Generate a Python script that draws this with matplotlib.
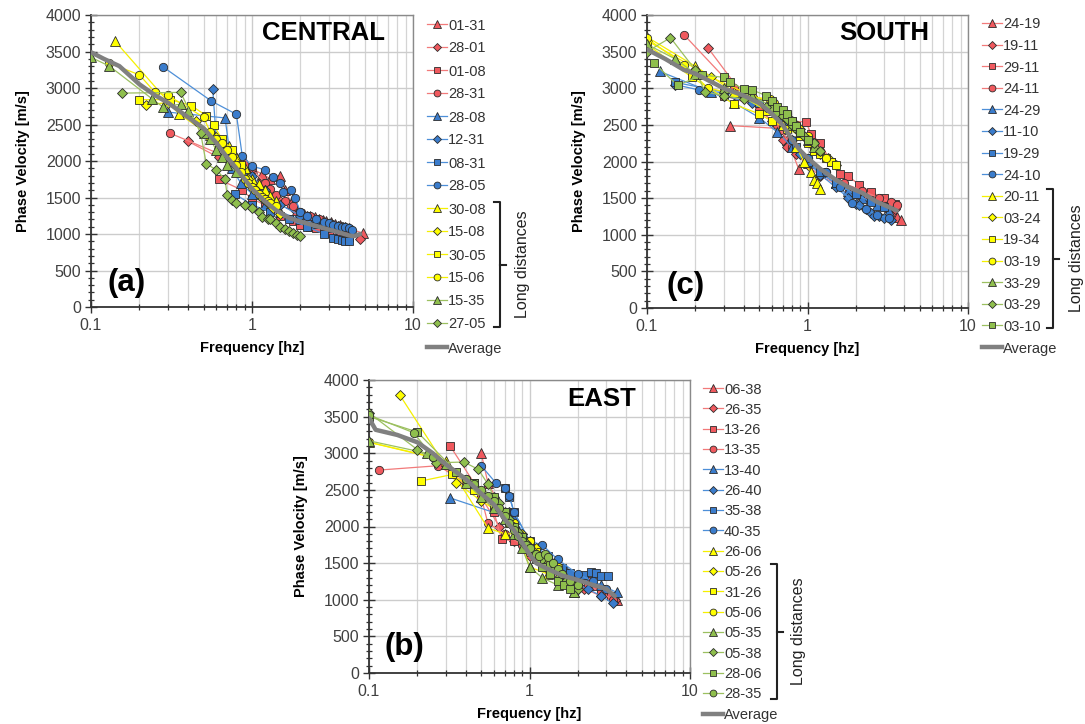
import numpy as np
import matplotlib
matplotlib.use('Agg')
import matplotlib.pyplot as plt
from matplotlib.lines import Line2D
from matplotlib.ticker import FixedLocator, MultipleLocator, NullFormatter

plt.rcParams['font.family'] = ['Liberation Sans', 'DejaVu Sans']

# ---------------- CENTRAL (a) ----------------
central_labels = ['01-31', '28-01', '01-08', '28-31', '28-08', '12-31', '08-31', '28-05',
                  '30-08', '15-08', '30-05', '15-06', '15-35', '27-05']
central_freq = [
    [0.62, 0.7, 0.8, 0.9, 1.0, 1.15, 1.3, 1.5, 1.6, 1.75, 1.9, 2.1, 2.3, 2.45, 2.6, 2.75, 2.9, 3.1, 3.3,
     3.5, 3.7, 4.2, 4.9],
    [0.4, 0.62, 0.75, 0.9, 1.1, 1.3, 1.5, 1.8, 2.2, 2.7, 3.3, 4.0, 4.7],
    [0.62, 0.87, 1.0, 1.2, 1.5, 1.8, 2.0, 2.3, 2.5, 2.8, 3.0, 3.5, 4.0],
    [0.31, 0.8, 1.0, 1.2, 1.3, 1.4, 1.6, 1.8, 2.0, 2.3, 2.6, 3.0, 3.5, 4.0],
    [0.3, 0.68, 0.75, 0.85, 1.0, 1.2, 1.5, 2.0, 2.5, 3.0, 3.5],
    [0.57, 0.6, 0.7, 0.8, 0.9, 1.0, 1.2, 1.5, 2.0, 2.5, 3.0, 3.2, 3.4, 3.6, 3.8, 4.0],
    [0.78, 1.0, 1.3, 1.7, 2.2, 2.8, 3.2, 3.4, 3.6, 3.8, 4.0],
    [0.28, 0.56, 0.8, 0.87, 1.0, 1.2, 1.35, 1.5, 1.55, 1.75, 1.85, 2.0, 2.2, 2.5, 2.8, 3.0, 3.2, 3.4,
     3.6, 3.8, 4.0, 4.2],
    [0.14, 0.35, 0.55, 0.65, 0.72, 0.8, 0.9, 1.0, 1.1, 1.2, 1.3, 1.4],
    [0.22, 0.3, 0.45, 0.55, 0.6, 0.65, 0.7, 0.75, 0.8, 0.85, 0.95, 1.05, 1.15, 1.25, 1.35, 1.5],
    [0.2, 0.31, 0.42, 0.52, 0.58, 0.65, 0.75, 0.85],
    [0.13, 0.2, 0.25, 0.3, 0.5, 0.55, 0.6, 0.65, 0.7, 0.75, 0.8, 0.85, 0.9, 0.95, 1.0, 1.05, 1.1, 1.15,
     1.2, 1.25, 1.3, 1.4],
    [0.1, 0.13, 0.24, 0.28, 0.36, 0.4, 0.5, 0.55, 0.6, 0.65, 0.7, 0.8],
    [0.155, 0.36, 0.48, 0.52, 0.6, 0.68, 0.7, 0.75, 0.8, 0.9, 1.0, 1.1, 1.15, 1.25, 1.3, 1.4, 1.5,
     1.6, 1.7, 1.8, 1.9, 2.0],
]
central_vel = [
    [2250, 2150, 2050, 1980, 1900, 1820, 1760, 1800, 1600, 1430, 1330, 1280, 1250, 1230, 1210, 1190,
     1180, 1160, 1140, 1120, 1100, 1060, 1010],
    [2270, 2050, 1950, 1850, 1700, 1560, 1450, 1350, 1250, 1180, 1100, 1020, 930],
    [1750, 1600, 1480, 1400, 1250, 1180, 1130, 1100, 1080, 1050, 1020, 990, 960],
    [2380, 2000, 1900, 1700, 1620, 1540, 1450, 1380, 1300, 1250, 1200, 1150, 1100, 1050],
    [2670, 2590, 1900, 1700, 1550, 1400, 1300, 1200, 1150, 1100, 1080],
    [2990, 2300, 2100, 1950, 1860, 1800, 1600, 1400, 1250, 1180, 1130, 1120, 1110, 1100, 1090, 1080],
    [1550, 1400, 1300, 1200, 1100, 1000, 950, 930, 920, 910, 900],
    [3290, 2820, 2640, 2070, 1930, 1880, 1780, 1700, 1580, 1600, 1500, 1300, 1250, 1200, 1170, 1150,
     1130, 1110, 1100, 1090, 1080, 1050],
    [3650, 2650, 2350, 2250, 2200, 2050, 1900, 1750, 1680, 1600, 1520, 1450],
    [2770, 2800, 2550, 2400, 2330, 2250, 2150, 2050, 1980, 1900, 1750, 1620, 1500, 1420, 1350, 1270],
    [2840, 2840, 2760, 2620, 2490, 2300, 2150, 1950],
    [3340, 3180, 2940, 2900, 2600, 2400, 2300, 2250, 2150, 2050, 1950, 1850, 1760, 1700, 1650, 1600, 1550,
     1510, 1480, 1450, 1420, 1380],
    [3420, 3300, 2850, 2740, 2780, 2680, 2380, 2300, 2150, 2050, 1950, 1850],
    [2930, 2940, 2380, 1960, 1880, 1750, 1540, 1460, 1420, 1400, 1360, 1300, 1230, 1210, 1200, 1150, 1100,
     1070, 1040, 1010, 990, 970],
]
central_avg_freq = [0.1, 0.12, 0.15, 0.2, 0.25, 0.3, 0.4, 0.5, 0.6, 0.7, 0.8, 0.9, 1.0, 1.2, 1.4, 1.7,
                    2.0, 2.5, 3.0, 3.5, 4.0, 4.3, 4.7]
central_avg_vel = [3490, 3400, 3300, 3050, 2900, 2800, 2600, 2450, 2250, 2050, 1900, 1750, 1620, 1450,
                   1330, 1220, 1170, 1110, 1060, 1020, 980, 970, 1000]

# ---------------- SOUTH (c) ----------------
south_labels = ['24-19', '19-11', '29-11', '24-11', '24-29', '11-10', '19-29', '24-10',
                '20-11', '03-24', '19-34', '03-19', '33-29', '03-29', '03-10']
south_freq = [
    [0.33, 0.68, 0.75, 0.88, 1.0, 1.2, 1.5, 1.8, 1.9, 2.0, 2.1, 2.2, 2.3, 2.4, 2.5, 2.6, 2.7, 2.8, 2.9,
     3.0, 3.1, 3.2, 3.3, 3.4, 3.6, 3.8],
    [0.24, 0.4, 0.6, 0.7, 0.75, 0.85, 1.0, 1.2, 1.5, 2.0, 2.5, 3.0, 3.5],
    [0.3, 0.6, 0.8, 0.98, 1.05, 1.2, 1.4, 1.6, 1.8, 2.1, 2.5, 3.0, 3.5],
    [0.17, 0.35, 0.5, 0.65, 0.8, 1.0, 1.3, 1.7, 2.2, 2.8, 3.3, 3.6],
    [0.12, 0.25, 0.35, 0.5, 0.65, 0.8, 1.0, 1.2, 1.5, 1.8, 2.2, 2.7, 3.2],
    [0.15, 0.3, 0.45, 0.6, 0.7, 0.8, 0.9, 1.0, 1.2, 1.5, 1.8, 2.0, 2.1, 2.3, 2.5, 2.6, 2.8, 3.0, 3.3],
    [0.15, 0.3, 0.5, 0.7, 0.85, 1.0, 1.2, 1.5, 2.0, 2.5, 3.0],
    [0.21, 0.4, 0.6, 0.8, 1.0, 1.3, 1.6, 1.9, 2.3, 2.7, 3.2],
    [0.1, 0.2, 0.35, 0.55, 0.7, 0.85, 0.95, 1.05, 1.1, 1.15, 1.2],
    [0.1, 0.25, 0.45, 0.6, 0.7, 0.8, 0.9, 1.0, 1.1, 1.2, 1.35, 1.5],
    [0.1, 0.19, 0.35, 0.5, 0.6, 0.75, 0.9, 1.0, 1.1, 1.2, 1.3, 1.4, 1.5],
    [0.1, 0.17, 0.24, 0.4, 0.58, 0.62, 0.75, 0.85, 1.0, 1.1, 1.2, 1.3],
    [0.1, 0.15, 0.2, 0.3, 0.45, 0.6, 0.7, 0.8, 0.9, 1.0, 1.1],
    [0.1, 0.14, 0.2, 0.23, 0.3, 0.4, 0.55, 0.65, 0.7, 0.75, 0.8, 0.85, 0.9, 0.95, 1.0, 1.1, 1.2],
    [0.11, 0.155, 0.22, 0.3, 0.33, 0.4, 0.45, 0.55, 0.6, 0.65, 0.7, 0.75, 0.8, 0.85, 0.9, 1.0],
]
south_vel = [
    [2490, 2450, 2300, 1900, 1980, 1850, 1700, 1620, 1600, 1590, 1570, 1550, 1530, 1510, 1500, 1480,
     1470, 1450, 1440, 1420, 1400, 1380, 1340, 1300, 1240, 1200],
    [3550, 2900, 2550, 2300, 2200, 2100, 1950, 1800, 1700, 1580, 1480, 1400, 1350],
    [2900, 2700, 2550, 2540, 2380, 2250, 2000, 1830, 1800, 1680, 1580, 1500, 1420],
    [3730, 3000, 2700, 2500, 2200, 2050, 1850, 1700, 1600, 1500, 1450, 1400],
    [3230, 2950, 2800, 2600, 2400, 2200, 2000, 1850, 1700, 1600, 1500, 1400, 1330],
    [3050, 2900, 2800, 2700, 2550, 2300, 2100, 2000, 1820, 1650, 1500, 1420, 1400, 1350, 1300, 1260,
     1250, 1230, 1200],
    [3080, 2950, 2800, 2500, 2200, 2000, 1850, 1700, 1550, 1450, 1380],
    [2980, 2900, 2700, 2300, 2050, 1850, 1650, 1430, 1350, 1270, 1230],
    [3700, 3300, 2950, 2700, 2500, 2200, 2000, 1850, 1750, 1700, 1620],
    [3650, 3150, 2900, 2800, 2650, 2550, 2450, 2300, 2200, 2100, 2050, 1950],
    [3600, 3150, 2780, 2650, 2550, 2450, 2350, 2250, 2150, 2100, 2050, 2000, 1950],
    [3680, 3320, 3000, 2900, 2850, 2800, 2650, 2500, 2350, 2250, 2150, 2050],
    [3600, 3400, 3200, 3000, 2900, 2750, 2650, 2500, 2400, 2300, 2200],
    [3500, 3690, 3250, 2950, 2900, 2850, 2750, 2680, 2620, 2580, 2500, 2450, 2400, 2350, 2300, 2250, 2150],
    [3350, 3040, 3180, 3150, 3080, 2990, 2980, 2900, 2820, 2750, 2700, 2650, 2550, 2480, 2400, 2300],
]
south_avg_freq = [0.1, 0.13, 0.17, 0.2, 0.3, 0.4, 0.5, 0.6, 0.7, 0.8, 0.9, 1.0, 1.2, 1.5, 1.8, 2.2,
                  2.7, 3.2, 3.6]
south_avg_vel = [3530, 3400, 3250, 3200, 3000, 2900, 2800, 2650, 2500, 2300, 2150, 2050, 1900, 1750,
                 1650, 1570, 1450, 1380, 1330]

# ---------------- EAST (b) ----------------
east_labels = ['06-38', '26-35', '13-26', '13-35', '13-40', '26-40', '35-38', '40-35',
               '26-06', '05-26', '31-26', '05-06', '05-35', '05-38', '28-06', '28-35']
east_freq = [
    [0.5, 0.55, 0.65, 0.8, 1.0, 1.2, 1.5, 2.0, 2.5, 3.0, 3.5],
    [0.27, 0.5, 0.65, 0.8, 1.0, 1.3, 1.7, 2.2, 2.8, 3.4],
    [0.32, 0.45, 0.6, 0.67, 0.8, 1.0, 1.3, 1.6, 2.0, 2.4, 2.8, 3.2],
    [0.115, 0.27, 0.4, 0.5, 0.55, 0.7, 0.9, 1.1, 1.4, 1.8, 2.3, 2.8, 3.3],
    [0.32, 0.8, 1.0, 1.3, 1.7, 2.2, 2.8, 3.5],
    [0.75, 0.9, 1.1, 1.4, 1.8, 2.3, 2.8, 3.3],
    [0.7, 0.75, 0.8, 1.0, 1.3, 1.6, 1.8, 2.0, 2.2, 2.4, 2.6, 2.8, 3.1],
    [0.5, 0.62, 0.7, 0.75, 0.8, 1.0, 1.2, 1.5, 2.0, 2.5, 3.0],
    [0.1, 0.3, 0.55, 0.7, 0.85, 1.0, 1.3, 1.6, 1.9],
    [0.155, 0.35, 0.5, 0.7, 0.8, 0.9, 1.1, 1.3, 1.6, 2.0],
    [0.21, 0.33, 0.45, 0.6, 0.75, 0.9, 1.1, 1.3],
    [0.1, 0.25, 0.4, 0.6, 0.8, 1.0, 1.2, 1.5, 2.0],
    [0.1, 0.23, 0.3, 0.4, 0.5, 0.6, 0.7, 0.8, 0.9, 1.0, 1.2, 1.5, 1.9],
    [0.1, 0.2, 0.26, 0.39, 0.48, 0.55, 0.6, 0.65, 0.7, 0.75, 0.8, 0.85, 0.9, 0.95, 1.0, 1.1, 1.2, 1.3,
     1.4, 1.55, 1.7, 2.0],
    [0.1, 0.2, 0.35, 0.45, 0.6, 0.7, 0.8, 0.9, 1.0, 1.1, 1.2, 1.35, 1.5, 1.65, 1.8],
    [0.1, 0.19, 0.25, 0.4, 0.45, 0.5, 0.55, 0.6, 0.65, 0.7, 0.75, 0.8, 0.85, 0.9, 0.95, 1.0, 1.1, 1.15,
     1.25, 1.3, 1.4, 1.5, 1.6, 1.8, 2.0],
]
east_vel = [
    [3000, 2600, 2300, 2050, 1800, 1600, 1450, 1300, 1200, 1100, 1000],
    [2850, 2400, 2000, 1800, 1600, 1400, 1250, 1150, 1050, 1000],
    [3100, 2600, 2200, 1830, 1800, 1650, 1450, 1350, 1250, 1250, 1150, 1050],
    [2770, 2830, 2600, 2400, 2050, 1900, 1750, 1550, 1400, 1280, 1200, 1100, 1000],
    [2390, 2100, 1800, 1550, 1400, 1300, 1200, 1100],
    [2200, 1900, 1650, 1400, 1250, 1150, 1050, 950],
    [2520, 2400, 2200, 1800, 1600, 1430, 1370, 1330, 1340, 1380, 1360, 1330, 1320],
    [2830, 2590, 2520, 2420, 2200, 1800, 1750, 1550, 1350, 1250, 1150],
    [3150, 2900, 1980, 1900, 1900, 1450, 1350, 1250, 1100],
    [3800, 2600, 2350, 2150, 2000, 1900, 1700, 1550, 1350, 1150],
    [2620, 2710, 2500, 2300, 2050, 1850, 1650, 1500],
    [3150, 2950, 2650, 2300, 2050, 1800, 1600, 1450, 1200],
    [3170, 3000, 2850, 2600, 2400, 2250, 2100, 1900, 1700, 1450, 1300, 1200, 1100],
    [3550, 3050, 2870, 2880, 2780, 2580, 2400, 2320, 2200, 2100, 2000, 1930, 1850, 1780, 1700, 1620,
     1550, 1480, 1400, 1320, 1250, 1150],
    [3500, 3290, 2750, 2600, 2400, 2200, 2000, 1850, 1700, 1550, 1450, 1350, 1250, 1200, 1150],
    [3520, 3280, 2950, 2650, 2580, 2500, 2420, 2350, 2250, 2150, 2050, 1950, 1870, 1800, 1750, 1700,
     1620, 1600, 1620, 1580, 1500, 1420, 1350, 1250, 1200],
]
east_avg_freq = [0.1, 0.11, 0.15, 0.2, 0.25, 0.3, 0.4, 0.5, 0.6, 0.7, 0.8, 0.9, 1.0, 1.1, 1.3, 1.6,
                 2.0, 2.5, 3.0, 3.4]
east_avg_vel = [3480, 3320, 3250, 3150, 3000, 2850, 2650, 2450, 2300, 2100, 1950, 1780, 1620, 1500,
                1420, 1330, 1270, 1200, 1150, 1050]

# colours of the four groups, in order red / blue / yellow / green
group_face = ['#f0595e', '#3a7ccc', '#ffff00', '#8fbf4d']
group_line = ['#f27a7a', '#4d8fd8', '#f5f000', '#9cc060']
marker_cycle = ['^', 'D', 's', 'o']
marker_size = {'^': 6.5, 'D': 4.8, 's': 5.8, 'o': 6.0}

W, H = 1085, 724


def fx(px):
    return px / W


def fy(py):
    return 1 - py / H


def draw_panel(ax, labels, freqs, vels, avg_f, avg_v, name, letter, name_pos, letter_pos):
    handles = []
    for i, lab in enumerate(labels):
        g = i // 4
        m = marker_cycle[i % 4]
        h, = ax.plot(freqs[i], vels[i], color=group_line[g], lw=0.9, marker=m,
                     ms=marker_size[m], mfc=group_face[g], mec='#2b2b2b', mew=0.6, label=lab, zorder=3)
        handles.append(h)
    ha, = ax.plot(avg_f, avg_v, color='#808080', lw=3.2, solid_capstyle='round', label='Average', zorder=4)
    handles.append(ha)

    ax.set_xscale('log')
    ax.set_xlim(0.1, 10)
    ax.set_ylim(0, 4000)
    ax.xaxis.set_major_locator(FixedLocator([0.1, 1, 10]))
    ax.set_xticklabels(['0.1', '1', '10'])
    ax.xaxis.set_minor_locator(FixedLocator([k * d for d in (0.1, 1) for k in range(2, 10)]))
    ax.xaxis.set_minor_formatter(NullFormatter())
    ax.yaxis.set_major_locator(MultipleLocator(500))
    ax.yaxis.set_minor_locator(MultipleLocator(100))
    ax.grid(which='major', color='#cccccc', lw=1.0)
    ax.grid(which='minor', axis='x', color='#d4d4d4', lw=0.9)
    ax.set_axisbelow(True)
    ax.tick_params(which='major', direction='inout', length=8, width=1.0, pad=3,
                   labelsize=11.5, colors='#333333', labelcolor='#404040')
    ax.tick_params(which='minor', direction='inout', length=5, width=0.9, colors='#333333')
    ax.tick_params(axis='x', which='major', pad=4)
    for side in ('left', 'bottom'):
        ax.spines[side].set_color('#333333')
        ax.spines[side].set_linewidth(1.3)
    for side in ('top', 'right'):
        ax.spines[side].set_color('#8a8a8a')
        ax.spines[side].set_linewidth(1.0)
    ax.set_xlabel('Frequency [hz]', fontsize=10.5, fontweight='bold', labelpad=6)
    ax.set_ylabel('Phase Velocity [m/s]', fontsize=10.5, fontweight='bold', labelpad=11)
    ax.text(name_pos[0], name_pos[1], name, transform=ax.transAxes, fontsize=18.5,
            fontweight='bold', ha='center', va='center')
    ax.text(letter_pos[0], letter_pos[1], letter, transform=ax.transAxes, fontsize=22.5,
            fontweight='bold', ha='center', va='center')
    return handles


def draw_legend(handles, x0, y_first, step, y_avg, bracket_top, bracket_bot, bracket_x, text_x):
    for i, h in enumerate(handles):
        y = y_avg if h.get_label() == 'Average' else y_first + i * step
        fig.add_artist(Line2D([fx(x0), fx(x0 + 20)], [fy(y), fy(y)], color=h.get_color(),
                              lw=h.get_linewidth()))
        if h.get_marker() not in (None, 'None', ''):
            fig.add_artist(Line2D([fx(x0 + 10)], [fy(y)], marker=h.get_marker(),
                                  ms=h.get_markersize() * 0.82, mfc=h.get_markerfacecolor(),
                                  mec='#2b2b2b', mew=0.6, ls='none'))
        fig.text(fx(x0 + 21), fy(y), h.get_label(), ha='left', va='center_baseline',
                 fontsize=10.5, color='#333333')
    # bracket around the long-distance entries
    bx = fx(bracket_x)
    yt, yb = fy(bracket_top), fy(bracket_bot)
    ym = (yt + yb) / 2
    d = fx(6)
    fig.add_artist(Line2D([bx - d, bx, bx, bx - d], [yt, yt, yb, yb], color='#222222', lw=1.5))
    fig.add_artist(Line2D([bx, bx + d], [ym, ym], color='#222222', lw=1.5))
    fig.text(fx(text_x), ym, 'Long distances', rotation=90, ha='center', va='center',
             fontsize=11.5, color='#222222')


fig = plt.figure(figsize=(10.85, 7.24), dpi=100)
ax_a = fig.add_axes([fx(91), fy(307), fx(322), 292 / H])
ax_c = fig.add_axes([fx(647), fy(308), fx(321), 293 / H])
ax_b = fig.add_axes([fx(369), fy(673), fx(321), 293 / H])

h_a = draw_panel(ax_a, central_labels, central_freq, central_vel, central_avg_freq, central_avg_vel,
                 'CENTRAL', '(a)', (0.721, 0.937), (0.109, 0.082))
h_c = draw_panel(ax_c, south_labels, south_freq, south_vel, south_avg_freq, south_avg_vel,
                 'SOUTH', '(c)', (0.7375, 0.937), (0.119, 0.075))
h_b = draw_panel(ax_b, east_labels, east_freq, east_vel, east_avg_freq, east_avg_vel,
                 'EAST', '(b)', (0.725, 0.934), (0.11, 0.089))

draw_legend(h_a, 427, 24, 23.0, 347, 202, 327, 500, 523)
draw_legend(h_c, 982, 23, 21.6, 347, 189, 328, 1053, 1076)
draw_legend(h_b, 703, 388, 20.33, 714, 564, 699, 777, 798)

fig.savefig('out.png', dpi=100, facecolor='white')
